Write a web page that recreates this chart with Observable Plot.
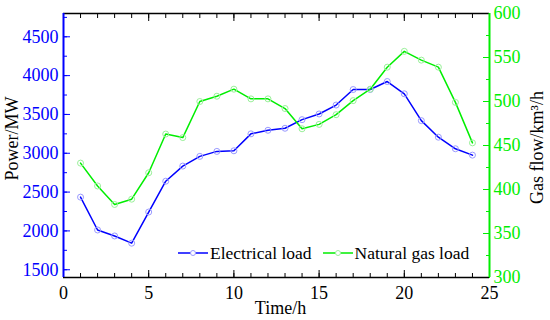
<!DOCTYPE html>
<html>
<head>
<meta charset="utf-8">
<script src="https://cdn.jsdelivr.net/npm/d3@7"></script>
<script src="https://cdn.jsdelivr.net/npm/@observablehq/plot@0.6"></script>
<style>
  body { margin: 0; background: #fff; }
  #wrap { position: relative; width: 550px; height: 320px; font-family: "Liberation Serif", "Times New Roman", serif; }
  #wrap svg text { font-family: "Liberation Serif", "Times New Roman", serif; }
  #legend { position: absolute; left: 178px; top: 243px; display: flex; align-items: center; font-size: 17.5px; line-height: 20px; color: #000; white-space: nowrap; }
  .item { display: flex; align-items: center; }
  .item svg { margin-right: 2px; }
  .item + .item { margin-left: 11px; }
</style>
</head>
<body>
<div id="wrap"><div id="legend"></div></div>
<script>
// ---- data ----
const hours = [1,2,3,4,5,6,7,8,9,10,11,12,13,14,15,16,17,18,19,20,21,22,23,24];
const electricalLoad = [2435,2012,1935,1842,2243,2640,2835,2960,3024,3032,3250,3296,3322,3433,3506,3621,3821,3821,3924,3766,3420,3207,3058,2976];
const gasLoad = [430,404,383,389,419,463,459,500,506,514,503,503,492,469,474,485,501,514,539,557,547,539,499,453];
const seriesNames = ["Electrical load", "Natural gas load"];
const leftTicks = [1500,2000,2500,3000,3500,4000,4500];
const rightTicks = [300,350,400,450,500,550,600];
const xTicks = [0,5,10,15,20,25];

// ---- scales helpers ----
const serif = "Liberation Serif, Times New Roman, serif";
const blue = "#0000ff", green = "#00ee00";
const blueMark = "#9a9aff", greenMark = "#9af09a";
const pDomain = [1400, 4800], gDomain = [300, 600];
const toP = g => pDomain[0] + (g - gDomain[0]) * (pDomain[1] - pDomain[0]) / (gDomain[1] - gDomain[0]);
const fromP = p => gDomain[0] + (p - pDomain[0]) * (gDomain[1] - gDomain[0]) / (pDomain[1] - pDomain[0]);

const rows = hours.map((h, i) => ({h, e: electricalLoad[i], g: toP(gasLoad[i])}));
const xMinor = d3.range(0, 26, 1);
const leftMinor = d3.range(1500, 4800, 250);
const rightMinor = d3.range(325, 600, 50).map(toP);
const noText = () => "";

const chart = Plot.plot({
  width: 550, height: 320,
  marginLeft: 63, marginRight: 61, marginTop: 13, marginBottom: 43,
  style: {fontFamily: serif, fontSize: "18px", background: "transparent", overflow: "visible"},
  x: {domain: [0, 25]},
  y: {domain: pDomain},
  marks: [
    // ticks (inward)
    Plot.axisX({anchor: "bottom", ticks: xMinor, tickSize: -4, tickFormat: noText, label: null, stroke: "#000"}),
    Plot.axisX({anchor: "bottom", ticks: xTicks, tickSize: -7, tickFormat: noText, label: null, stroke: "#000"}),
    Plot.axisX({anchor: "top", ticks: xMinor, tickSize: -4, tickFormat: noText, label: null, stroke: "#000"}),
    Plot.axisX({anchor: "top", ticks: xTicks, tickSize: -7, tickFormat: noText, label: null, stroke: "#000"}),
    Plot.axisY({anchor: "left", ticks: leftMinor, tickSize: -4, tickFormat: noText, label: null, stroke: blue}),
    Plot.axisY({anchor: "left", ticks: leftTicks, tickSize: -7, tickFormat: noText, label: null, stroke: blue}),
    Plot.axisY({anchor: "right", ticks: rightMinor, tickSize: -4, tickFormat: noText, label: null, stroke: green}),
    Plot.axisY({anchor: "right", ticks: rightTicks.map(toP), tickSize: -7, tickFormat: noText, label: null, stroke: green}),
    // tick labels
    Plot.axisX({anchor: "bottom", ticks: xTicks, tickSize: 0, tickPadding: 9, label: null, fill: "#000", fontSize: 18, fontFamily: serif,
      tickFormat: d => String(d)}),
    Plot.axisY({anchor: "left", ticks: leftTicks, tickSize: 0, tickPadding: 5, label: null, fill: blue, fontSize: 18, fontFamily: serif,
      tickFormat: d => String(d)}),
    Plot.axisY({anchor: "right", ticks: rightTicks.map(toP), tickSize: 0, tickPadding: 4, label: null, fill: green, fontSize: 18, fontFamily: serif,
      tickFormat: p => String(Math.round(fromP(p)))}),
    // frame
    Plot.ruleY([pDomain[1]], {stroke: "#000", strokeWidth: 1.5}),
    Plot.ruleY([pDomain[0]], {stroke: "#000", strokeWidth: 1.5}),
    Plot.ruleX([0], {stroke: blue, strokeWidth: 2}),
    Plot.ruleX([25], {stroke: green, strokeWidth: 2}),
    // series
    Plot.line(rows, {x: "h", y: "e", stroke: blue, strokeWidth: 1.5}),
    Plot.dot(rows, {x: "h", y: "e", r: 3, stroke: blueMark, fill: "none", strokeWidth: 1}),
    Plot.line(rows, {x: "h", y: "g", stroke: green, strokeWidth: 1.5}),
    Plot.dot(rows, {x: "h", y: "g", r: 3, stroke: greenMark, fill: "none", strokeWidth: 1}),
    // axis titles
    Plot.text(["Power/MW"], {text: d => d, frameAnchor: "left", textAnchor: "middle", lineAnchor: "middle", rotate: -90, dx: -51, dy: -7, fontSize: 18, fontFamily: serif, fill: "#000"}),
    Plot.text(["Gas flow/km³/h"], {text: d => d, frameAnchor: "right", textAnchor: "middle", lineAnchor: "middle", rotate: -90, dx: 48, dy: 2, fontSize: 18, fontFamily: serif, fill: "#000"}),
    Plot.text(["Time/h"], {text: d => d, frameAnchor: "bottom", textAnchor: "middle", lineAnchor: "middle", dx: 4, dy: 31, fontSize: 18, fontFamily: serif, fill: "#000"})
  ]
});
document.getElementById("wrap").prepend(chart);

// legend
const legend = document.getElementById("legend");
[[seriesNames[0], blue, blueMark], [seriesNames[1], green, greenMark]].forEach(([name, c, m]) => {
  const item = document.createElement("div");
  item.className = "item";
  item.innerHTML = `<svg width="30" height="12"><line x1="0" x2="30" y1="6" y2="6" stroke="${c}" stroke-width="1.5"/><circle cx="15" cy="6" r="2.5" fill="#fff" stroke="${m}"/></svg><span>${name}</span>`;
  legend.appendChild(item);
});
</script>
</body>
</html>
